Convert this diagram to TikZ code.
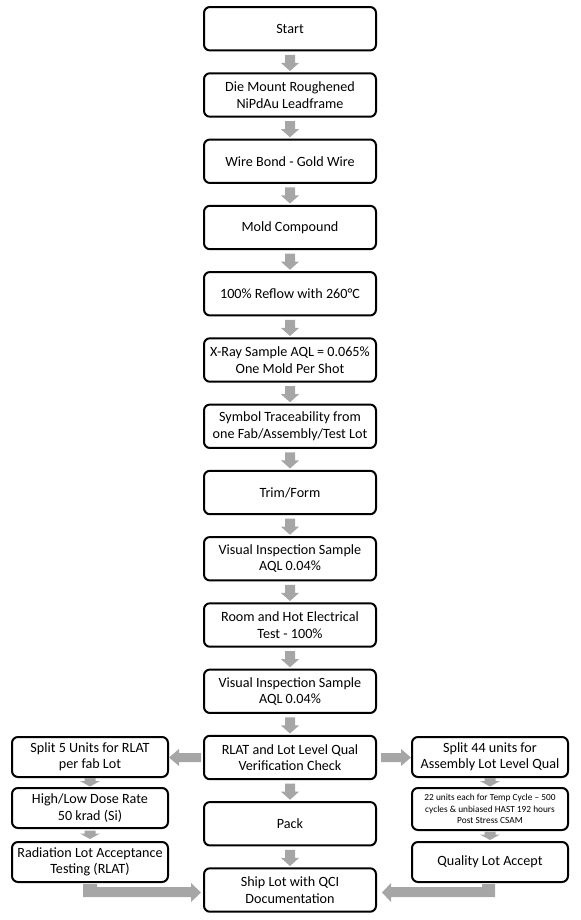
\documentclass[tikz,border=0pt]{standalone}
\usepackage{fontspec}
\setmainfont{Carlito}
\usetikzlibrary{calc}
\tikzset{
  box/.style={draw=black, line width=1.5pt, rounded corners=4.5pt, fill=white,
    minimum width=129pt, minimum height=32.6pt, align=center, inner sep=2pt,
    font=\fontsize{10.6pt}{12.3pt}\selectfont},
  sidebox/.style={box, minimum width=117pt, minimum height=30pt},
  smalltext/.style={font=\fontsize{7pt}{8.5pt}\selectfont},
  arrfill/.style={fill=arrgray, draw=none}
}
\definecolor{arrgray}{RGB}{166,166,166}
\newcommand{\downarrowblk}[1]{%
  \fill[arrfill] ($(#1.south)+(-5,3.5)$) -- ($(#1.south)+(5,3.5)$) -- ($(#1.south)+(5,11.5)$) -- ($(#1.south)+(9,11.5)$) -- ($(#1.south)+(0,19.5)$) -- ($(#1.south)+(-9,11.5)$) -- ($(#1.south)+(-5,11.5)$) -- cycle;}
\newcommand{\smalldownblk}[2]{%
  \coordinate (m) at ($(#1.south)!0.5!(#2.north)$);
  \fill[arrfill] ($(m)+(-5.5,-4.5)$) -- ($(m)+(5.5,-4.5)$) -- ($(m)+(5.5,-1.5)$) -- ($(m)+(10,-1.5)$) -- ($(m)+(0,4)$) -- ($(m)+(-10,-1.5)$) -- ($(m)+(-5.5,-1.5)$) -- cycle;}
\begin{document}
\begin{tikzpicture}[x=0.75pt, y=-0.75pt]
\useasboundingbox (0,0) rectangle (581,920);
% main column
\node[box] (n0) at (290, 28.75) {Start};
\node[box] (n1) at (290, 95.0) {Die Mount Roughened\\NiPdAu Leadframe};
\node[box] (n2) at (290, 161.25) {Wire Bond - Gold Wire};
\node[box] (n3) at (290, 227.5) {Mold Compound};
\node[box] (n4) at (290, 293.75) {100\% Reflow with 260°C};
\node[box] (n5) at (290, 360.0) {X-Ray Sample AQL = 0.065\%\\One Mold Per Shot};
\node[box] (n6) at (290, 426.25) {Symbol Traceability from\\one Fab/Assembly/Test Lot};
\node[box] (n7) at (290, 492.5) {Trim/Form};
\node[box] (n8) at (290, 558.75) {Visual Inspection Sample\\AQL 0.04\%};
\node[box] (n9) at (290, 625.0) {Room and Hot Electrical\\Test - 100\%};
\node[box] (n10) at (290, 691.25) {Visual Inspection Sample\\AQL 0.04\%};
\node[box] (n11) at (290, 757.5) {RLAT and Lot Level Qual\\Verification Check};
\node[box] (n12) at (290, 823.75) {Pack};
\node[box] (n13) at (290, 890.0) {Ship Lot with QCI\\Documentation};
% left column
\node[sidebox] (l1) at (90, 757) {Split 5 Units for RLAT\\per fab Lot};
\node[sidebox] (l2) at (90, 808) {High/Low Dose Rate\\50 krad (Si)};
\node[sidebox] (l3) at (90, 862) {Radiation Lot Acceptance\\Testing (RLAT)};
% right column
\node[sidebox] (r1) at (490, 757) {Split 44 units for\\Assembly Lot Level Qual};
\node[sidebox, minimum height=31.5pt, smalltext] (r2) at (490, 809) {22 units each for Temp Cycle – 500\\cycles \& unbiased HAST 192 hours\\Post Stress CSAM};
\node[sidebox] (r3) at (490, 862) {Quality Lot Accept};
% vertical arrows in main column
\foreach \i in {0,...,12} {\downarrowblk{n\i}}
% small arrows in side columns
\smalldownblk{l1}{l2}
\smalldownblk{l2}{l3}
\smalldownblk{r1}{r2}
\smalldownblk{r2}{r3}
% horizontal arrows from RLAT check
\fill[arrfill] ($(n11.west)+(-2,-4.5)$) -- ($(n11.west)+(-24,-4.5)$) -- ($(n11.west)+(-24,-8.5)$) -- ($(n11.west)+(-34,0)$) -- ($(n11.west)+(-24,8.5)$) -- ($(n11.west)+(-24,4.5)$) -- ($(n11.west)+(-2,4.5)$) -- cycle;
\fill[arrfill] ($(n11.east)+(4,-4.5)$) -- ($(n11.east)+(24,-4.5)$) -- ($(n11.east)+(24,-8.5)$) -- ($(n11.east)+(34,0)$) -- ($(n11.east)+(24,8.5)$) -- ($(n11.east)+(24,4.5)$) -- ($(n11.east)+(4,4.5)$) -- cycle;
% bent arrows into Ship
\coordinate (lc) at (l3.south |- n13.west);
\fill[arrfill] ($(l3.south)+(-7,1)$) -- ($(l3.south)+(7,1)$) -- ($(lc)+(7,-3)$) -- ($(n13.west)+(-12,-3)$) -- ($(n13.west)+(-12,-7)$) -- ($(n13.west)+(-2,2.5)$) -- ($(n13.west)+(-12,12)$) -- ($(n13.west)+(-12,7)$) -- ($(lc)+(-7,7)$) -- cycle;
\coordinate (rc) at (r3.south |- n13.east);
\fill[arrfill] ($(r3.south)+(5,1)$) -- ($(rc)+(5,7)$) -- ($(n13.east)+(14,7)$) -- ($(n13.east)+(14,12)$) -- ($(n13.east)+(5,2.5)$) -- ($(n13.east)+(14,-7)$) -- ($(n13.east)+(14,-3)$) -- ($(rc)+(-8,-3)$) -- ($(r3.south)+(-8,1)$) -- cycle;
\end{tikzpicture}
\end{document}
